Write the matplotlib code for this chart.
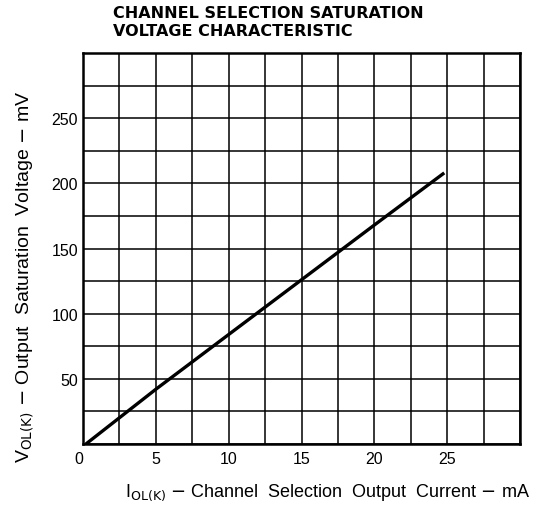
import numpy as np
import matplotlib
matplotlib.use("Agg")
from matplotlib import pyplot as plt

# values
current_ma = [0.2, 5, 10, 15, 20, 24.8]
voltage_mv = [0, 42, 84, 126, 168, 208]

x_major = [0, 5, 10, 15, 20, 25]
y_major = [50, 100, 150, 200, 250]

plt.rcParams['font.family'] = ['Liberation Sans', 'DejaVu Sans']

fig = plt.figure(figsize=(5.39, 5.06), dpi=100)
ax = fig.add_axes([83 / 539, 61 / 506, 437 / 539, 391 / 506])

ax.set_xlim(0, 30)
ax.set_ylim(0, 300)

# grid: every 2.5 mA and every 25 mV
ax.set_xticks(x_major)
ax.set_xticks(np.arange(0, 30.1, 2.5), minor=True)
ax.set_yticks(y_major)
ax.set_yticks(np.arange(0, 300.1, 25), minor=True)
ax.grid(which='both', color='black', linewidth=1.1)
ax.tick_params(which='both', length=0, labelsize=11.5)
ax.tick_params(axis='x', pad=5)
ax.tick_params(axis='y', pad=3.5)

# the single "0" sits at the lower-left corner
ax.get_xticklabels()[0].set_ha('right')

for s in ax.spines.values():
    s.set_linewidth(1.8)

ax.plot(current_ma, voltage_mv, color='black', linewidth=2.4,
        solid_capstyle='butt', zorder=3)

ax.set_xlabel(r'I$_{\mathrm{OL(K)}}$ $-$ Channel  Selection  Output  Current $-$ mA',
              fontsize=13)
ax.set_ylabel(r'V$_{\mathrm{OL(K)}}$ $-$ Output  Saturation  Voltage $-$ mV',
              fontsize=14)
ax.xaxis.set_label_coords(0.56, -0.095)
ax.yaxis.set_label_coords(-0.108, 0.43)

title_font = dict(fontsize=11.5, fontweight='bold', ha='left', va='center',
                  family='DejaVu Sans')
fig.text(113 / 539, 1 - 14 / 506, 'CHANNEL SELECTION SATURATION', **title_font)
fig.text(113 / 539, 1 - 31 / 506, 'VOLTAGE CHARACTERISTIC', **title_font)

fig.savefig('out.png', dpi=100)
